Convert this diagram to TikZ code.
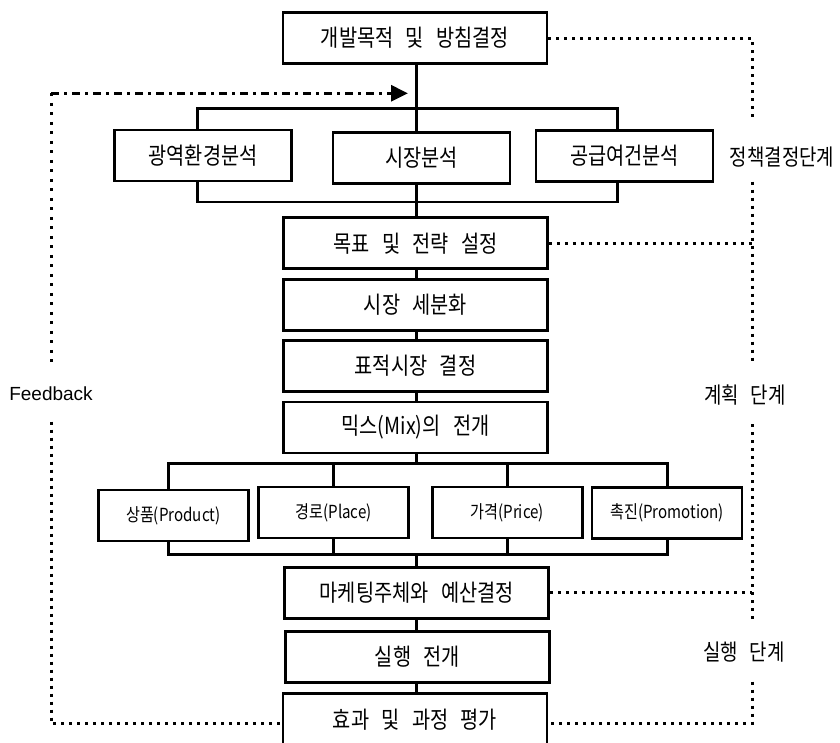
\documentclass[tikz,border=0pt]{standalone}
\usepackage{fontspec}
\setmainfont{Noto Sans CJK KR}[FakeStretch=0.84,WordSpace=2.8]
\newfontfamily\latfont{Liberation Sans}
\usetikzlibrary{arrows.meta}
\begin{document}
\begin{tikzpicture}[x=1pt,y=-1pt]
\tikzset{
  box/.style={draw, line width=2.8pt, minimum width=264pt, minimum height=51pt, inner sep=0pt, font=\fontsize{23.5}{27}\selectfont},
  sbox/.style={draw, line width=2.8pt, minimum width=177pt, minimum height=51pt, inner sep=0pt, font=\fontsize{23.5}{27}\selectfont},
  pbox/.style={draw, line width=2.8pt, minimum width=150pt, minimum height=51pt, inner sep=0pt, font=\fontsize{18}{22}\selectfont},
  lab/.style={inner sep=0pt, font=\fontsize{22.5}{27}\selectfont},
  conn/.style={line width=2.8pt},
  dotl/.style={line width=3pt, dash pattern=on 3pt off 5pt},
  dotv/.style={line width=3pt, dash pattern=on 3pt off 6.5pt},
  dashdot/.style={line width=3pt, dash pattern=on 8pt off 5pt on 3pt off 5pt},
}
\fill[white] (0,0) rectangle (840,742);
\useasboundingbox (0,0) rectangle (840,742);

\coordinate (cx) at (416.7,0);

% main boxes
\node[box] (top) at (415,38) {개발목적 및 방침결정};
\node[sbox] (b1) at (203,155.5) {광역환경분석};
\node[sbox] (b2) at (421.5,158) {시장분석};
\node[sbox] (b3) at (624.5,156) {공급여건분석};
\node[box] (goal) at (415.5,243.3) {목표 및 전략 설정};
\node[box] (seg) at (415.5,305) {시장 세분화};
\node[box] (tgt) at (415.5,365.8) {표적시장 결정};
\node[box] (mix) at (415.5,427.5) {믹스(Mix)의 전개};
\node[pbox] (p1) at (173.3,515.5) {상품(Product)};
\node[pbox] (p2) at (333.7,512.5) {경로(Place)};
\node[pbox] (p3) at (507.3,512.5) {가격(Price)};
\node[pbox] (p4) at (667,512.8) {촉진(Promotion)};
\node[box] (mkt) at (416.7,592.8) {마케팅주체와 예산결정};
\node[box] (exe) at (417.5,656.7) {실행 전개};
\node[box, minimum height=52pt] (eval) at (415,719.3) {효과 및 과정 평가};

% labels
\node[lab] (l1) at (782,156.7) {정책결정단계};
\node[lab] (l2) at (744.7,395) {계획 단계};
\node[lab] (l3) at (744,651.7) {실행 단계};
\node[inner sep=0pt, font=\latfont\fontsize{19}{22}\selectfont] (fb) at (51,393.3) {Feedback};

% top bracket
\coordinate (tl) at (197.3,108.3);
\coordinate (tr) at (617.3,108.3);
\coordinate (bl) at (197.3,202);
\coordinate (br) at (617.3,202);
\draw[conn] (top.south -| cx) -- (b2.north -| cx);
\draw[conn] (tl |- b1.north) -- (tl) -- (tr) -- (tr |- b3.north);
\draw[conn] (bl |- b1.south) -- (bl) -- (br) -- (br |- b3.south);
\draw[conn] (b2.south -| cx) -- (goal.north -| cx);
\draw[conn] (goal.south -| cx) -- (seg.north -| cx);
\draw[conn] (seg.south -| cx) -- (tgt.north -| cx);
\draw[conn] (tgt.south -| cx) -- (mix.north -| cx);

% 4P bracket
\coordinate (ptl) at (168.3,463.3);
\coordinate (ptr) at (667.3,463.3);
\coordinate (pbl) at (168.3,554.3);
\coordinate (pbr) at (667.3,554.3);
\draw[conn] (mix.south -| cx) -- (ptl -| cx);
\draw[conn] (ptl |- p1.north) -- (ptl) -- (ptr) -- (ptr |- p4.north);
\draw[conn] (p2.north) -- (p2.north |- ptl);
\draw[conn] (p3.north) -- (p3.north |- ptl);
\draw[conn] (pbl |- p1.south) -- (pbl) -- (pbr) -- (pbr |- p4.south);
\draw[conn] (p2.south) -- (p2.south |- pbl);
\draw[conn] (p3.south) -- (p3.south |- pbl);
\draw[conn] (pbl -| cx) -- (mkt.north -| cx);
\draw[conn] (mkt.south -| cx) -- (exe.north -| cx);
\draw[conn] (exe.south -| cx) -- (eval.north -| cx);

% right dotted lines
\coordinate (r1) at (752,120);
\coordinate (r2) at (752,181.7);
\coordinate (r3) at (752,363.3);
\coordinate (r4) at (752,424);
\coordinate (r5) at (752,621.7);
\coordinate (r6) at (752,681.7);
\coordinate (r7) at (752,723.3);
\draw[dotl] (top.east) -| (r1);
\draw[dotl] (r2) -- (r3);
\draw[dotl] (goal.east) -- (goal.east -| r2);
\draw[dotl] (r4) -- (r5);
\draw[dotl] (mkt.east) -- (mkt.east -| r4);
\draw[dotl] (r6) -- (r7) -- (r7 -| eval.east);

% feedback
\coordinate (f1) at (51,93.3);
\coordinate (f2) at (51,361.7);
\coordinate (f3) at (51,421.7);
\coordinate (f4) at (51,723.3);
\draw[dashdot, -{Triangle[length=17pt,width=16pt]}, shorten >=8.7pt] (f1) -- (f1 -| cx);
\draw[dotv] (f1) -- (f2);
\draw[dotl] (f3) -- (f4) -- (f4 -| eval.west);
\end{tikzpicture}
\end{document}
